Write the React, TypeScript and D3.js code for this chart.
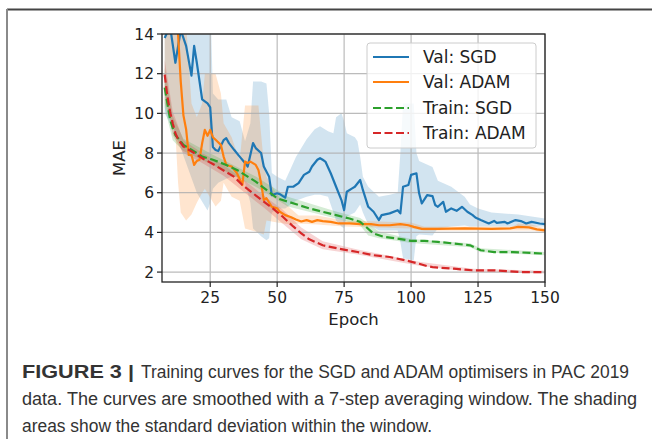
import React from "react";
import * as d3 from "d3";

// ---------- data ----------
const xTicks = [25, 50, 75, 100, 125, 150];
const yTicks = [2, 4, 6, 8, 10, 12, 14];
const seriesNames = ["Val: SGD", "Val: ADAM", "Train: SGD", "Train: ADAM"];

// [epoch, MAE]
const valSgd: [number, number][] = [
  [8, 13.8], [10, 14.4], [12, 12.55], [14, 14.2], [16, 13.4], [18, 11.9], [19, 13.4], [20, 12.55],
  [22, 10.7], [24, 10.5], [25, 10.3], [26, 8.3], [27, 8.15], [28, 8.1], [30, 8.65], [31, 8.75],
  [32, 8.5], [34, 8.15], [36, 7.82], [38, 7.5], [39, 7.32], [41, 8.5], [42, 8.25], [44, 8.0],
  [45, 7.32], [47, 6.8], [48, 5.88], [50, 5.97], [51, 5.93], [53, 5.75], [54, 6.3], [56, 6.3],
  [58, 6.48], [60, 6.9], [62, 7.06], [63, 7.32], [65, 7.66], [66, 7.74], [67, 7.66], [68, 7.57],
  [70, 6.98], [72, 6.3], [74, 5.63], [75, 5.12], [76, 6.05], [78, 6.22], [79, 6.3], [81, 6.64],
  [82, 6.14], [84, 5.29], [86, 5.04], [88, 4.62], [89, 4.87], [92, 4.96], [95, 5.12], [96, 4.96],
  [97, 6.3], [99, 6.39], [100, 6.9], [102, 6.98], [103, 5.97], [104, 5.46], [106, 5.88], [108, 5.83],
  [109, 5.38], [110, 5.29], [112, 5.54], [113, 5.04], [115, 5.21], [117, 5.09], [119, 5.29], [121, 5.04],
  [123, 4.87], [124, 4.75], [126, 4.62], [129, 4.45], [131, 4.58], [132, 4.48], [135, 4.53], [136, 4.45],
  [139, 4.62], [141, 4.57], [143, 4.45], [145, 4.53], [148, 4.45], [150, 4.42],
];
const valAdam: [number, number][] = [
  [8, 16.5], [11, 15.5], [13, 14.0], [14, 11.6], [15, 9.9], [16, 9.2], [17, 7.9], [18, 7.9],
  [19, 7.4], [20, 7.6], [21, 7.66], [22, 8.5], [23, 9.17], [24, 8.87], [25, 9.17], [26, 8.8],
  [27, 8.67], [29, 8.41], [30, 7.82], [31, 7.4], [33, 7.32], [35, 6.98], [37, 6.39], [38, 7.57],
  [39, 7.49], [40, 7.57], [42, 7.4], [43, 7.15], [44, 6.48], [45, 5.63], [46, 5.72], [48, 5.29],
  [50, 5.21], [51, 5.04], [53, 4.87], [55, 4.78], [57, 4.65], [59, 4.55], [61, 4.62], [63, 4.53],
  [65, 4.62], [67, 4.57], [70, 4.53], [73, 4.45], [77, 4.45], [81, 4.42], [85, 4.42], [88, 4.36],
  [92, 4.36], [96, 4.42], [99, 4.36], [101, 4.28], [104, 4.18], [110, 4.18], [120, 4.2], [130, 4.18],
  [137, 4.2], [140, 4.28], [144, 4.25], [147, 4.15], [150, 4.1],
];
const trainSgd: [number, number][] = [
  [8, 11.3], [9, 10.5], [10, 9.7], [11, 9.25], [12, 8.9], [13, 8.75], [15, 8.41], [19, 8.08],
  [22, 7.82], [26, 7.66], [31, 7.4], [35, 7.15], [39, 6.81], [42, 6.56], [46, 6.14], [50, 5.72],
  [54, 5.55], [58, 5.38], [62, 5.21], [67, 5.04], [72, 4.87], [77, 4.7], [81, 4.53], [83, 4.3],
  [86, 3.94], [90, 3.77], [95, 3.69], [100, 3.57], [105, 3.57], [110, 3.52], [116, 3.44], [122, 3.35],
  [126, 3.1], [131, 3.01], [138, 3.01], [150, 2.93],
];
const trainAdam: [number, number][] = [
  [8, 11.95], [9, 10.86], [10, 10.1], [11, 9.5], [12, 9.0], [13, 8.7], [15, 8.33], [19, 8.0],
  [22, 7.74], [26, 7.45], [30, 7.12], [34, 6.8], [37, 6.39], [41, 5.97], [45, 5.55], [48, 5.25],
  [52, 4.8], [56, 4.3], [59, 3.95], [62, 3.65], [67, 3.35], [73, 3.18], [80, 3.01], [86, 2.85],
  [92, 2.76], [98, 2.59], [103, 2.42], [106, 2.3], [108, 2.25], [116, 2.17], [123, 2.09], [131, 2.09],
  [141, 2.0], [150, 2.0],
];

// [epoch, lower, upper] of the shaded std band
const valSgdBand: [number, number, number][] = [
  [8, 10.0, 16], [12, 9.0, 16], [16, 7.5, 16], [20, 6.0, 16], [24, 5.1, 16], [25, 5.5, 16],
  [26, 6.2, 11.0], [28, 6.5, 10.7], [31, 6.7, 10.7], [33, 6.8, 9.8], [36, 6.8, 9.6], [38, 6.5, 8.6],
  [40, 5.5, 9.5], [41, 4.2, 11.6], [44, 3.8, 11.6], [46, 3.6, 11.5], [47, 3.7, 10.0], [48, 5.0, 7.0],
  [50, 5.2, 6.8], [53, 5.2, 6.6], [55, 5.4, 7.2], [57, 5.6, 7.8], [61, 5.8, 8.7], [64, 5.9, 9.2],
  [66, 5.9, 9.35], [69, 5.8, 9.1], [71, 5.0, 9.0], [72, 4.6, 9.8], [74, 4.3, 10.0], [75, 4.2, 9.6],
  [76, 4.8, 9.0], [79, 5.0, 8.8], [80, 5.2, 8.6], [81, 5.4, 7.8], [82, 5.0, 6.8], [84, 4.4, 6.3],
  [88, 4.1, 5.8], [92, 4.1, 5.9], [95, 4.1, 6.0], [96, 3.5, 8.0], [97, 2.7, 10.5], [101, 2.6, 10.5],
  [102, 3.8, 8.0], [103, 3.9, 7.6], [108, 3.85, 7.3], [110, 4.2, 6.6], [115, 4.3, 6.3], [120, 4.35, 5.8],
  [122, 4.3, 5.4], [125, 4.3, 5.2], [130, 4.3, 5.0], [140, 4.3, 4.9], [150, 4.3, 4.7],
];
const valAdamBand: [number, number, number][] = [
  [8, 10.5, 17], [12, 9.0, 17], [13, 6.5, 16], [14, 5.0, 16], [16, 4.6, 14.5], [18, 4.9, 10.5],
  [20, 5.5, 9.8], [22, 6.0, 10.5], [23, 6.2, 12.0], [27, 5.3, 12.0], [29, 5.6, 11.0], [30, 6.5, 9.5],
  [33, 5.8, 8.8], [36, 5.6, 7.6], [38, 4.2, 10.4], [43, 4.0, 10.4], [45, 3.9, 7.5], [46, 4.6, 6.8],
  [50, 4.5, 5.9], [55, 4.4, 5.2], [58, 4.45, 4.85], [65, 4.4, 4.85], [75, 4.3, 4.6], [100, 4.2, 4.5],
  [105, 4.08, 4.28], [138, 4.1, 4.3], [140, 4.1, 4.45], [145, 4.1, 4.4], [150, 4.0, 4.2],
];
const trainSgdBand: [number, number, number][] = [
  [8, 10.3, 12.3], [11, 8.65, 9.85], [15, 8.1, 8.72], [26, 7.4, 7.92], [42, 6.3, 6.82], [54, 5.3, 5.8],
  [72, 4.7, 5.05], [81, 4.35, 4.72], [84, 3.85, 4.45], [88, 3.7, 4.05], [100, 3.47, 3.67],
  [122, 3.25, 3.45], [126, 3.0, 3.2], [150, 2.85, 3.01],
];
const trainAdamBand: [number, number, number][] = [
  [8, 11.1, 12.7], [11, 8.9, 10.1], [15, 8.0, 8.65], [22, 7.5, 8.0], [30, 6.85, 7.4], [37, 6.1, 6.7],
  [45, 5.25, 5.85], [52, 4.45, 5.15], [59, 3.65, 4.25], [67, 3.15, 3.55], [80, 2.88, 3.14],
  [103, 2.32, 2.52], [123, 2.01, 2.17], [150, 1.93, 2.07],
];

const captionBold = "FIGURE 3 |";
const captionLines = [
  "Training curves for the SGD and ADAM optimisers in PAC 2019",
  "data. The curves are smoothed with a 7-step averaging window. The shading",
  "areas show the standard deviation within the window.",
];

// ---------- layout / style ----------
const W = 652;
const H = 439;
const PL = 162, PR = 545, PT = 34, PB = 282;
const colors = ["#1f77b4", "#ff7f0e", "#2ca02c", "#d62728"];
const dashed = [false, false, true, true];
const FONT = "DejaVu Sans, Verdana, sans-serif";

export default function App() {
  const x = d3.scaleLinear().domain([7, 150]).range([PL, PR]);
  const y = d3.scaleLinear().domain([1.5, 14]).range([PB, PT]);

  const line = d3.line<[number, number]>().x((d) => x(d[0])).y((d) => y(d[1]));
  const area = d3
    .area<[number, number, number]>()
    .x((d) => x(d[0]))
    .y0((d) => y(d[1]))
    .y1((d) => y(d[2]));

  const lines = [valSgd, valAdam, trainSgd, trainAdam];
  const bands = [valSgdBand, valAdamBand, trainSgdBand, trainAdamBand];

  const legendX = 367, legendY = 43, legendW = 169, legendH = 105;
  const rowY = [57, 82, 108, 133];

  return (
    <svg
      width={W}
      height={H}
      style={{ position: "absolute", left: 0, top: 0, background: "#fff" }}
      xmlns="http://www.w3.org/2000/svg"
    >
      <rect x={0} y={0} width={W} height={H} fill="#fff" />
      {/* page frame */}
      <line x1={7} x2={W} y1={9.5} y2={9.5} stroke="#444" strokeWidth={2} />
      <line x1={7} x2={7} y1={9} y2={H} stroke="#8a8a8a" strokeWidth={2} />

      <defs>
        <clipPath id="plotclip">
          <rect x={PL} y={PT} width={PR - PL} height={PB - PT} />
        </clipPath>
      </defs>

      {/* bands */}
      <g clipPath="url(#plotclip)">
        {bands.map((b, i) => (
          <path key={i} d={area(b) || ""} fill={colors[i]} fillOpacity={0.2} stroke="none" />
        ))}
      </g>

      {/* grid */}
      <g stroke="#b0b0b0" strokeWidth={1.2} opacity={0.85}>
        {xTicks.map((t) => (
          <line key={"gx" + t} x1={x(t)} x2={x(t)} y1={PT} y2={PB} />
        ))}
        {yTicks.map((t) => (
          <line key={"gy" + t} x1={PL} x2={PR} y1={y(t)} y2={y(t)} />
        ))}
      </g>

      {/* lines */}
      <g clipPath="url(#plotclip)" fill="none">
        {lines.map((l, i) => (
          <path
            key={i}
            d={line(l) || ""}
            stroke={colors[i]}
            strokeWidth={2.2}
            strokeDasharray={dashed[i] ? "8,3.5" : undefined}
            strokeLinejoin="round"
          />
        ))}
      </g>

      {/* spines */}
      <rect x={PL} y={PT} width={PR - PL} height={PB - PT} fill="none" stroke="#222" strokeWidth={1.3} />

      {/* ticks */}
      <g stroke="#222" strokeWidth={1.2}>
        {xTicks.map((t) => (
          <line key={"tx" + t} x1={x(t)} x2={x(t)} y1={PB} y2={PB + 5} />
        ))}
        {yTicks.map((t) => (
          <line key={"ty" + t} x1={PL - 5} x2={PL} y1={y(t)} y2={y(t)} />
        ))}
      </g>
      <g fontFamily={FONT} fontSize={15.5} fill="#222">
        {xTicks.map((t) => (
          <text key={"lx" + t} x={x(t)} y={303} textAnchor="middle">
            {t}
          </text>
        ))}
        {yTicks.map((t) => (
          <text key={"ly" + t} x={154} y={y(t) + 5.7} textAnchor="end">
            {t}
          </text>
        ))}
      </g>

      {/* axis labels */}
      <text x={(PL + PR) / 2} y={325} textAnchor="middle" fontFamily={FONT} fontSize={16.5} fill="#222">
        Epoch
      </text>
      <text
        transform={`translate(125,${(PT + PB) / 2}) rotate(-90)`}
        textAnchor="middle"
        fontFamily={FONT}
        fontSize={16.5}
        fill="#222"
      >
        MAE
      </text>

      {/* legend */}
      <rect
        x={legendX}
        y={legendY}
        width={legendW}
        height={legendH}
        rx={3}
        fill="#fff"
        fillOpacity={0.8}
        stroke="#cccccc"
        strokeWidth={1}
      />
      {seriesNames.map((n, i) => (
        <g key={n}>
          <line
            x1={373}
            x2={409}
            y1={rowY[i]}
            y2={rowY[i]}
            stroke={colors[i]}
            strokeWidth={2.2}
            strokeDasharray={dashed[i] ? "8,3.5" : undefined}
          />
          <text x={423} y={rowY[i] + 6} fontFamily={FONT} fontSize={17} fill="#222">
            {n}
          </text>
        </g>
      ))}

      {/* caption */}
      <g fontFamily="Liberation Sans Narrow, Liberation Sans, Arial, sans-serif" fontSize={17.5} fill="#333">
        <text x={22} y={378} fontWeight="bold" textLength={112} lengthAdjust="spacingAndGlyphs">
          {captionBold}
        </text>
        <text x={141} y={378} textLength={488} lengthAdjust="spacingAndGlyphs">
          {captionLines[0]}
        </text>
        <text x={22} y={405} textLength={615} lengthAdjust="spacingAndGlyphs">
          {captionLines[1]}
        </text>
        <text x={22} y={431.5} textLength={410} lengthAdjust="spacingAndGlyphs">
          {captionLines[2]}
        </text>
      </g>
    </svg>
  );
}
